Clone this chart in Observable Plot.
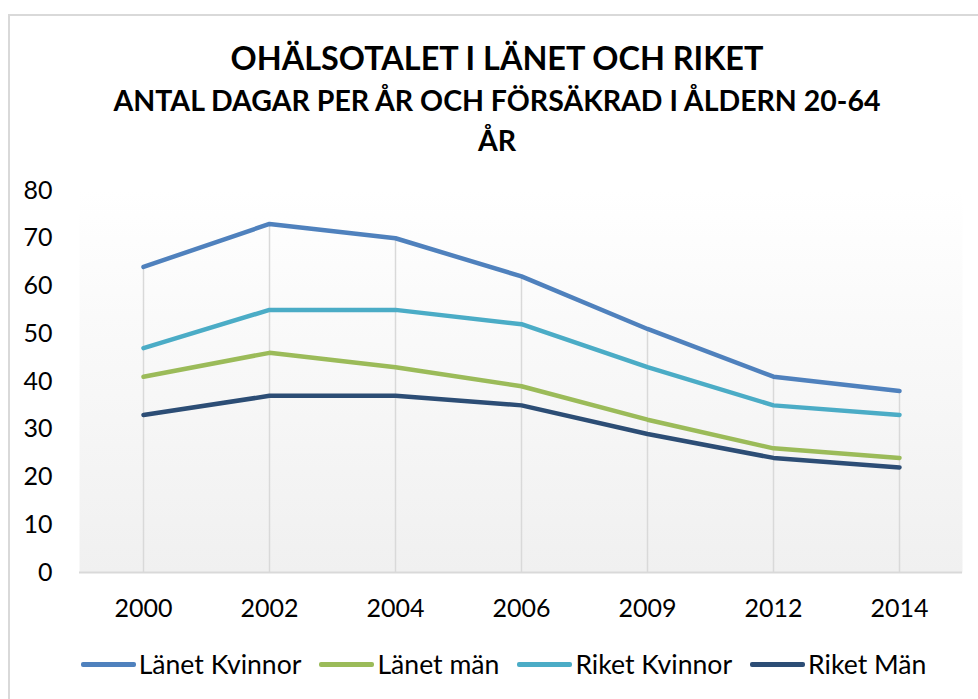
<!DOCTYPE html>
<html>
<head>
<meta charset="utf-8">
<script src="https://cdn.jsdelivr.net/npm/d3@7"></script>
<script src="https://cdn.jsdelivr.net/npm/@observablehq/plot@0.6"></script>
<style>
  html, body { margin: 0; padding: 0; background: #fff; width: 978px; height: 699px; overflow: hidden; }
  body { position: relative; font-family: Lato, "Open Sans", sans-serif; color: #000; }
  #frame { position: absolute; left: 8px; top: 14px; width: 1000px; height: 720px; border-top: 2px solid #d9d9d9; border-left: 2px solid #d9d9d9; box-sizing: border-box; }
  .t { position: absolute; left: 0; width: 994px; text-align: center; font-weight: bold; white-space: nowrap; }
  #title { top: 42px; font-size: 32.4px; line-height: 32.4px; }
  #sub1 { top: 86px; font-size: 28.5px; line-height: 28.5px; }
  #sub2 { top: 126px; font-size: 28.5px; line-height: 28.5px; }
  #chart { position: absolute; left: 0; top: 160px; }
  #legend { position: absolute; top: 651px; left: 0; width: 1007px; display: flex; justify-content: center; font-size: 26.6px; line-height: 26.6px; }
  .item { display: flex; align-items: center; margin: 0 9px; }
  .sw { width: 55px; height: 4.5px; border-radius: 2px; margin-right: 3px; }
</style>
</head>
<body>
<div id="frame"></div>
<div class="t" id="title">OHÄLSOTALET I LÄNET OCH RIKET</div>
<div class="t" id="sub1">ANTAL DAGAR PER ÅR OCH FÖRSÄKRAD I ÅLDERN 20-64</div>
<div class="t" id="sub2">ÅR</div>
<div id="chart"></div>
<div id="legend"></div>
<script>
const years = ["2000", "2002", "2004", "2006", "2009", "2012", "2014"];
const seriesNames = ["Länet Kvinnor", "Länet män", "Riket Kvinnor", "Riket Män"];
const lanetKvinnor = [64, 73, 70, 62, 51, 41, 38];
const lanetMan = [41, 46, 43, 39, 32, 26, 24];
const riketKvinnor = [47, 55, 55, 52, 43, 35, 33];
const riketMan = [33, 37, 37, 35, 29, 24, 22];
const colors = ["#4f81bd", "#9bbb59", "#4bacc6", "#2c4d75"];
const yTicks = [0, 10, 20, 30, 40, 50, 60, 70, 80];

const seriesValues = [lanetKvinnor, lanetMan, riketKvinnor, riketMan];
const data = [];
seriesNames.forEach((s, i) => years.forEach((y, j) => data.push({year: y, value: seriesValues[i][j], series: s})));
const drops = years.map((y, j) => ({year: y, max: d3.max(seriesValues, v => v[j])}));

const chart = Plot.plot({
  width: 978,
  height: 470,
  marginTop: 30,
  marginBottom: 58,
  marginLeft: 79,
  marginRight: 16,
  style: {fontFamily: "Lato, 'Open Sans', sans-serif", fontSize: "25px", color: "#000", background: "transparent"},
  x: {type: "point", domain: years, padding: 0.5},
  y: {domain: [0, 80]},
  color: {domain: seriesNames, range: colors},
  marks: [
    Plot.frame({fill: "url(#plotbg)", stroke: "none"}),
    Plot.ruleX(drops, {x: "year", y1: 0, y2: "max", stroke: "#d9d9d9", strokeWidth: 1.5}),
    Plot.ruleY([0], {stroke: "#d9d9d9", strokeWidth: 2}),
    Plot.axisY({ticks: yTicks, tickSize: 0, tickPadding: 27, label: null, fontSize: 25}),
    Plot.axisX({tickSize: 0, tickPadding: 27, label: null, fontSize: 25}),
    Plot.line(data, {x: "year", y: "value", z: "series", stroke: "series", strokeWidth: 4.5, strokeLinecap: "round", strokeLinejoin: "round"})
  ]
});

const svg = d3.select(chart);
const defs = svg.insert("defs", ":first-child");
const g = defs.append("linearGradient").attr("id", "plotbg").attr("x1", 0).attr("y1", 0).attr("x2", 0).attr("y2", 1);
g.append("stop").attr("offset", "0%").attr("stop-color", "#ffffff");
g.append("stop").attr("offset", "13%").attr("stop-color", "#fdfdfd");
g.append("stop").attr("offset", "100%").attr("stop-color", "#f0f0f0");
document.getElementById("chart").appendChild(chart);

const legend = document.getElementById("legend");
seriesNames.forEach((s, i) => {
  const it = document.createElement("div");
  it.className = "item";
  const sw = document.createElement("div");
  sw.className = "sw";
  sw.style.background = colors[i];
  const tx = document.createElement("span");
  tx.textContent = s;
  it.appendChild(sw);
  it.appendChild(tx);
  legend.appendChild(it);
});
</script>
</body>
</html>
